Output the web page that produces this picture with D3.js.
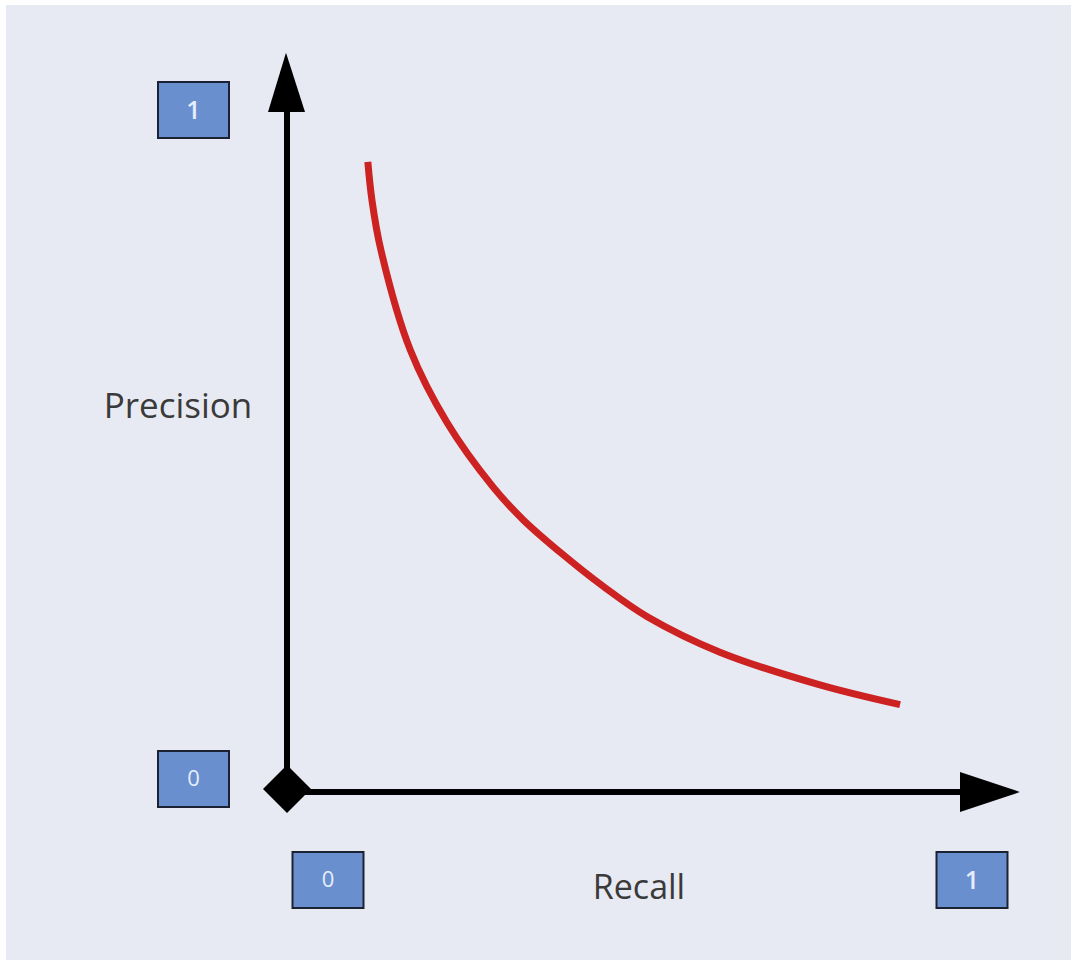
<!DOCTYPE html>
<html>
<head>
<meta charset="utf-8">
<script src="https://cdn.jsdelivr.net/npm/d3@7"></script>
<style>
  html, body { margin: 0; padding: 0; background: #ffffff; }
  svg { display: block; }
</style>
</head>
<body>
<svg id="chart" width="1071" height="960"></svg>
<script>
// ---- data ----
const recall    = [0.118, 0.124, 0.137, 0.180, 0.234, 0.301, 0.345, 0.403, 0.461, 0.526, 0.632, 0.778, 0.895];
const precision = [0.924, 0.868, 0.795, 0.648, 0.541, 0.447, 0.399, 0.348, 0.302, 0.257, 0.205, 0.157, 0.128];
const xTickLabels = ["0", "1"];
const yTickLabels = ["0", "1"];
const xTickValues = [0, 1];
const yTickValues = [0, 1];
const xTitle = "Recall";
const yTitle = "Precision";

// ---- layout ----
const W = 1071, H = 960;
const svg = d3.select("#chart");
const x = d3.scaleLinear().domain([0, 1]).range([287, 972]);
const y = d3.scaleLinear().domain([0, 1]).range([792, 110]);

svg.append("rect").attr("x", 6).attr("y", 5).attr("width", W - 6).attr("height", H - 5)
  .attr("fill", "#e7eaf2");

const FONT = "'Open Sans', 'Noto Sans', sans-serif";

// axes lines
svg.append("line")
  .attr("x1", x(0)).attr("y1", y(0)).attr("x2", x(1.0)).attr("y2", y(0))
  .attr("stroke", "#000").attr("stroke-width", 6);
svg.append("line")
  .attr("x1", x(0)).attr("y1", y(0)).attr("x2", x(0)).attr("y2", y(1.0) + 2)
  .attr("stroke", "#000").attr("stroke-width", 6);
// x-axis arrowhead
const xa = x(1.0), xt = x(1.07);
svg.append("path")
  .attr("d", `M${xa - 12},${y(0) - 20} L${xt},${y(0)} L${xa - 12},${y(0) + 20} Z`)
  .attr("fill", "#000");
// y-axis arrowhead
const ya = y(1.0), yt = y(1.084);
svg.append("path")
  .attr("d", `M${x(0) - 19},${ya + 2} L${x(0) - 1},${yt} L${x(0) + 18},${ya + 2} Z`)
  .attr("fill", "#000");
// origin diamond
svg.append("path")
  .attr("d", d3.symbol().type(d3.symbolSquare).size(1150)())
  .attr("transform", `translate(${x(0)},${y(0) - 3}) rotate(45)`)
  .attr("fill", "#000");

// tick label boxes
const BW = 71, BH = 56;
function box(cx, cy, label) {
  const g = svg.append("g").attr("transform", `translate(${cx},${cy})`);
  g.append("rect").attr("x", -BW / 2).attr("y", -BH / 2).attr("width", BW).attr("height", BH)
    .attr("fill", "#6a8fce").attr("stroke", "#1b2233").attr("stroke-width", 2);
  g.append("text").attr("text-anchor", "middle").attr("dy", label === "0" ? "0.33em" : "0.36em")
    .attr("font-family", FONT).attr("font-size", label === "0" ? 22 : 25)
    .attr("font-weight", label === "0" ? 400 : 600)
    .attr("fill", "#e6eefc").text(label);
}
yTickValues.forEach((v, i) => box(193.5, y(v) - (v === 0 ? 13 : 0), yTickLabels[i]));
xTickValues.forEach((v, i) => box(x(v) + (v === 0 ? 41 : 0), 880, xTickLabels[i]));

// titles
svg.append("text").attr("x", 178).attr("y", 418).attr("text-anchor", "middle")
  .attr("font-family", FONT).attr("font-size", 35).attr("fill", "#3a3a3a").text(yTitle);
svg.append("text").attr("x", 639).attr("y", 899).attr("text-anchor", "middle")
  .attr("font-family", FONT).attr("font-size", 34).attr("fill", "#3a3a3a").text(xTitle);

// curve
const pts = recall.map((r, i) => [r, precision[i]]);
svg.append("path")
  .attr("d", d3.line().x(d => x(d[0])).y(d => y(d[1])).curve(d3.curveCatmullRom.alpha(0.5))(pts))
  .attr("fill", "none").attr("stroke", "#cd2222").attr("stroke-width", 7);
</script>
</body>
</html>
